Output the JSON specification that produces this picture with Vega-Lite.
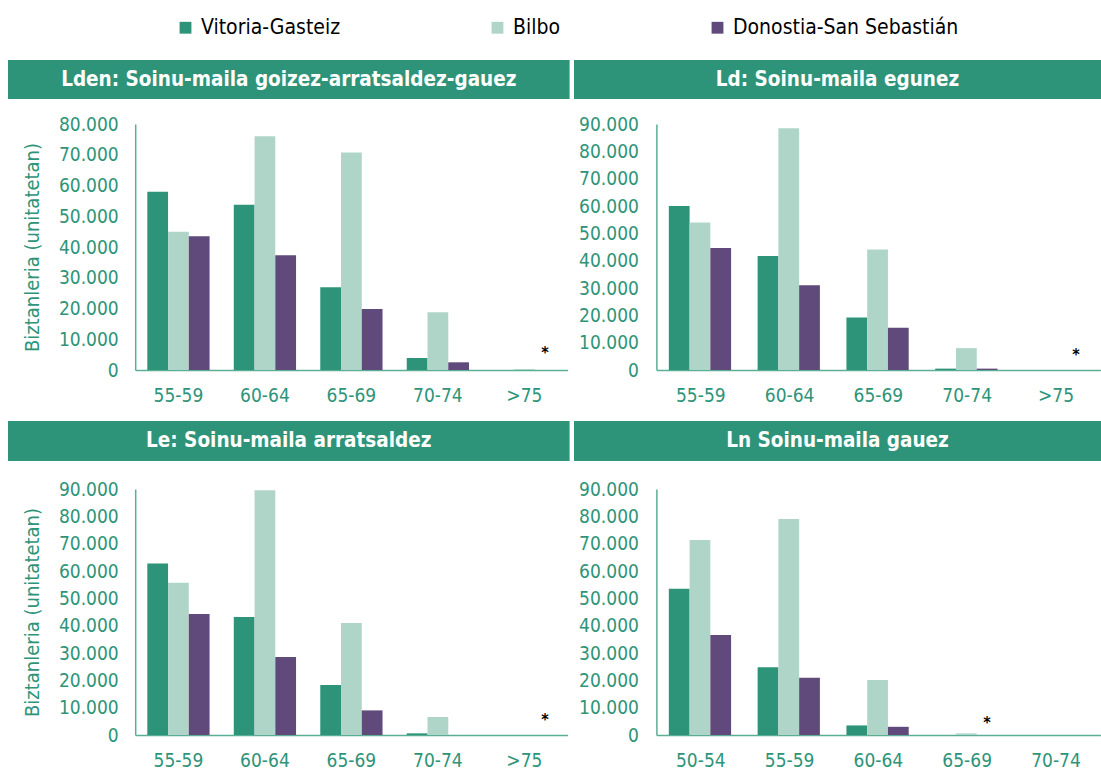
{
  "$schema": "https://vega.github.io/schema/vega-lite/v6.json",
  "padding": {"left": 8, "top": 17, "right": 0, "bottom": 0},
  "config": {
    "font": "DejaVu Sans Condensed",
    "view": {"stroke": null},
    "legend": {"padding": 0}
  },
  "datasets": {
    "bars": [
      {"panel": "Lden", "age": "55-59", "city": "Vitoria-Gasteiz", "value": 58000},
      {"panel": "Lden", "age": "55-59", "city": "Bilbo", "value": 45000},
      {"panel": "Lden", "age": "55-59", "city": "Donostia-San Sebastián", "value": 43500},
      {"panel": "Lden", "age": "60-64", "city": "Vitoria-Gasteiz", "value": 53700},
      {"panel": "Lden", "age": "60-64", "city": "Bilbo", "value": 76000},
      {"panel": "Lden", "age": "60-64", "city": "Donostia-San Sebastián", "value": 37300},
      {"panel": "Lden", "age": "65-69", "city": "Vitoria-Gasteiz", "value": 26900},
      {"panel": "Lden", "age": "65-69", "city": "Bilbo", "value": 70700},
      {"panel": "Lden", "age": "65-69", "city": "Donostia-San Sebastián", "value": 19800},
      {"panel": "Lden", "age": "70-74", "city": "Vitoria-Gasteiz", "value": 3900},
      {"panel": "Lden", "age": "70-74", "city": "Bilbo", "value": 18800},
      {"panel": "Lden", "age": "70-74", "city": "Donostia-San Sebastián", "value": 2500},
      {"panel": "Lden", "age": ">75", "city": "Vitoria-Gasteiz", "value": 0},
      {"panel": "Lden", "age": ">75", "city": "Bilbo", "value": 300},
      {"panel": "Lden", "age": ">75", "city": "Donostia-San Sebastián", "value": 0},
      {"panel": "Ld", "age": "55-59", "city": "Vitoria-Gasteiz", "value": 60000},
      {"panel": "Ld", "age": "55-59", "city": "Bilbo", "value": 54000},
      {"panel": "Ld", "age": "55-59", "city": "Donostia-San Sebastián", "value": 44600},
      {"panel": "Ld", "age": "60-64", "city": "Vitoria-Gasteiz", "value": 41700},
      {"panel": "Ld", "age": "60-64", "city": "Bilbo", "value": 88400},
      {"panel": "Ld", "age": "60-64", "city": "Donostia-San Sebastián", "value": 31000},
      {"panel": "Ld", "age": "65-69", "city": "Vitoria-Gasteiz", "value": 19200},
      {"panel": "Ld", "age": "65-69", "city": "Bilbo", "value": 44100},
      {"panel": "Ld", "age": "65-69", "city": "Donostia-San Sebastián", "value": 15500},
      {"panel": "Ld", "age": "70-74", "city": "Vitoria-Gasteiz", "value": 500},
      {"panel": "Ld", "age": "70-74", "city": "Bilbo", "value": 8000},
      {"panel": "Ld", "age": "70-74", "city": "Donostia-San Sebastián", "value": 500},
      {"panel": "Ld", "age": ">75", "city": "Vitoria-Gasteiz", "value": 0},
      {"panel": "Ld", "age": ">75", "city": "Bilbo", "value": 0},
      {"panel": "Ld", "age": ">75", "city": "Donostia-San Sebastián", "value": 0},
      {"panel": "Le", "age": "55-59", "city": "Vitoria-Gasteiz", "value": 62700},
      {"panel": "Le", "age": "55-59", "city": "Bilbo", "value": 55700},
      {"panel": "Le", "age": "55-59", "city": "Donostia-San Sebastián", "value": 44300},
      {"panel": "Le", "age": "60-64", "city": "Vitoria-Gasteiz", "value": 43200},
      {"panel": "Le", "age": "60-64", "city": "Bilbo", "value": 89500},
      {"panel": "Le", "age": "60-64", "city": "Donostia-San Sebastián", "value": 28500},
      {"panel": "Le", "age": "65-69", "city": "Vitoria-Gasteiz", "value": 18300},
      {"panel": "Le", "age": "65-69", "city": "Bilbo", "value": 41000},
      {"panel": "Le", "age": "65-69", "city": "Donostia-San Sebastián", "value": 9000},
      {"panel": "Le", "age": "70-74", "city": "Vitoria-Gasteiz", "value": 600},
      {"panel": "Le", "age": "70-74", "city": "Bilbo", "value": 6600},
      {"panel": "Le", "age": "70-74", "city": "Donostia-San Sebastián", "value": 0},
      {"panel": "Le", "age": ">75", "city": "Vitoria-Gasteiz", "value": 0},
      {"panel": "Le", "age": ">75", "city": "Bilbo", "value": 0},
      {"panel": "Le", "age": ">75", "city": "Donostia-San Sebastián", "value": 0},
      {"panel": "Ln", "age": "50-54", "city": "Vitoria-Gasteiz", "value": 53500},
      {"panel": "Ln", "age": "50-54", "city": "Bilbo", "value": 71300},
      {"panel": "Ln", "age": "50-54", "city": "Donostia-San Sebastián", "value": 36600},
      {"panel": "Ln", "age": "55-59", "city": "Vitoria-Gasteiz", "value": 24800},
      {"panel": "Ln", "age": "55-59", "city": "Bilbo", "value": 79000},
      {"panel": "Ln", "age": "55-59", "city": "Donostia-San Sebastián", "value": 20900},
      {"panel": "Ln", "age": "60-64", "city": "Vitoria-Gasteiz", "value": 3500},
      {"panel": "Ln", "age": "60-64", "city": "Bilbo", "value": 20100},
      {"panel": "Ln", "age": "60-64", "city": "Donostia-San Sebastián", "value": 3000},
      {"panel": "Ln", "age": "65-69", "city": "Vitoria-Gasteiz", "value": 0},
      {"panel": "Ln", "age": "65-69", "city": "Bilbo", "value": 600},
      {"panel": "Ln", "age": "65-69", "city": "Donostia-San Sebastián", "value": 0},
      {"panel": "Ln", "age": "70-74", "city": "Vitoria-Gasteiz", "value": 0},
      {"panel": "Ln", "age": "70-74", "city": "Bilbo", "value": 0},
      {"panel": "Ln", "age": "70-74", "city": "Donostia-San Sebastián", "value": 0}
    ],
    "stars": [
      {"panel": "Lden", "age": ">75", "city": "Donostia-San Sebastián", "value": 4000, "label": "*"},
      {"panel": "Ld", "age": ">75", "city": "Donostia-San Sebastián", "value": 3500, "label": "*"},
      {"panel": "Le", "age": ">75", "city": "Donostia-San Sebastián", "value": 3500, "label": "*"},
      {"panel": "Ln", "age": "65-69", "city": "Donostia-San Sebastián", "value": 2500, "label": "*"}
    ],
    "titles": [
      {"panel": "Lden", "title": "Lden: Soinu-maila goizez-arratsaldez-gauez"},
      {"panel": "Ld", "title": "Ld: Soinu-maila egunez"},
      {"panel": "Le", "title": "Le: Soinu-maila arratsaldez"},
      {"panel": "Ln", "title": "Ln Soinu-maila gauez"}
    ]
  },
  "spacing": 16,
  "vconcat": [
    {
      "spacing": 16,
      "vconcat": [
        {
          "spacing": 4,
          "hconcat": [
            {
              "width": 561.6, "height": 39,
              "view": {"fill": "#2e9479", "stroke": null},
              "data": {"name": "titles"},
              "transform": [{"filter": "datum.panel == 'Lden'"}],
              "mark": {"type": "text", "color": "white", "fontWeight": "bold", "fontSize": 20.5, "baseline": "middle", "align": "center"},
              "encoding": {"text": {"field": "title"}}
            },
            {
              "width": 527, "height": 39,
              "view": {"fill": "#2e9479", "stroke": null},
              "data": {"name": "titles"},
              "transform": [{"filter": "datum.panel == 'Ld'"}],
              "mark": {"type": "text", "color": "white", "fontWeight": "bold", "fontSize": 20.5, "baseline": "middle", "align": "center"},
              "encoding": {"text": {"field": "title"}}
            }
          ]
        },
        {
          "spacing": 10.4,
          "hconcat": [
            {
              "width": 559.6, "height": 246,
              "encoding": {
                "x": {"field": "age", "type": "nominal", "sort": ["55-59", "60-64", "65-69", "70-74", ">75"], "title": null,
                  "scale": {"range": [127.2, 559.6], "paddingInner": 0.28, "paddingOuter": 0.14},
                  "axis": {"labelAngle": 0, "ticks": false, "domainColor": "#5aae95", "domainWidth": 1.5, "labelColor": "#2e9479", "labelFontSize": 19, "labelPadding": 16}},
                "xOffset": {"field": "city", "sort": ["Vitoria-Gasteiz", "Bilbo", "Donostia-San Sebastián"]},
                "y": {"field": "value", "type": "quantitative", "scale": {"domain": [0, 80000], "nice": false},
                  "axis": {"title": "Biztanleria (unitatetan)", "offset": -127.2, "values": [0, 10000, 20000, 30000, 40000, 50000, 60000, 70000, 80000], "labelOverlap": false,
                    "labelExpr": "replace(format(datum.value, ','), ',', '.')", "grid": false, "ticks": false, "domainColor": "#5aae95", "domainWidth": 1.5,
                    "labelColor": "#2e9479", "labelFontSize": 19, "labelPadding": 17, "titleColor": "#2e9479", "titleFontSize": 20, "titleFontWeight": "normal", "titlePadding": 16}}
              },
              "layer": [
                {
                  "data": {"name": "bars"},
                  "transform": [{"filter": "datum.panel == 'Lden'"}],
                  "mark": {"type": "bar"},
                  "encoding": {
                    "color": {"field": "city", "type": "nominal",
                      "scale": {"domain": ["Vitoria-Gasteiz", "Bilbo", "Donostia-San Sebastián"], "range": ["#2e9479", "#afd5c8", "#604a7b"]},
                      "legend": {"orient": "none", "legendX": 167, "legendY": -43, "direction": "horizontal", "title": null, "symbolType": "square", "symbolSize": 140, "symbolStrokeWidth": 0, "labelFontSize": 21, "labelLimit": 400, "labelColor": "black", "columnPadding": 146, "labelOffset": 5}}
                  }
                },
                {
                  "data": {"name": "stars"},
                  "transform": [{"filter": "datum.panel == 'Lden'"}],
                  "mark": {"type": "text", "fontWeight": "bold", "fontSize": 16, "baseline": "alphabetic", "color": "black"},
                  "encoding": {"text": {"field": "label"}}
                }
              ]
            },
            {
              "width": 444, "height": 246,
              "encoding": {
                "x": {"field": "age", "type": "nominal", "sort": ["55-59", "60-64", "65-69", "70-74", ">75"], "title": null,
                  "scale": {"paddingInner": 0.28, "paddingOuter": 0.14},
                  "axis": {"labelAngle": 0, "ticks": false, "domainColor": "#5aae95", "domainWidth": 1.5, "labelColor": "#2e9479", "labelFontSize": 19, "labelPadding": 16}},
                "xOffset": {"field": "city", "sort": ["Vitoria-Gasteiz", "Bilbo", "Donostia-San Sebastián"]},
                "y": {"field": "value", "type": "quantitative", "scale": {"domain": [0, 90000], "nice": false},
                  "axis": {"title": null, "values": [0, 10000, 20000, 30000, 40000, 50000, 60000, 70000, 80000, 90000], "labelOverlap": false,
                    "labelExpr": "replace(format(datum.value, ','), ',', '.')", "grid": false, "ticks": false, "domainColor": "#5aae95", "domainWidth": 1.5,
                    "labelColor": "#2e9479", "labelFontSize": 19, "labelPadding": 18}}
              },
              "layer": [
                {
                  "data": {"name": "bars"},
                  "transform": [{"filter": "datum.panel == 'Ld'"}],
                  "mark": {"type": "bar"},
                  "encoding": {
                    "color": {"field": "city", "type": "nominal",
                      "scale": {"domain": ["Vitoria-Gasteiz", "Bilbo", "Donostia-San Sebastián"], "range": ["#2e9479", "#afd5c8", "#604a7b"]},
                      "legend": {"orient": "none", "legendX": 167, "legendY": -43, "direction": "horizontal", "title": null, "symbolType": "square", "symbolSize": 140, "symbolStrokeWidth": 0, "labelFontSize": 21, "labelLimit": 400, "labelColor": "black", "columnPadding": 146, "labelOffset": 5}}
                  }
                },
                {
                  "data": {"name": "stars"},
                  "transform": [{"filter": "datum.panel == 'Ld'"}],
                  "mark": {"type": "text", "fontWeight": "bold", "fontSize": 16, "baseline": "alphabetic", "color": "black"},
                  "encoding": {"text": {"field": "label"}}
                }
              ]
            }
          ]
        }
      ]
    },
    {
      "spacing": 19,
      "vconcat": [
        {
          "spacing": 4,
          "hconcat": [
            {
              "width": 561.6, "height": 40,
              "view": {"fill": "#2e9479", "stroke": null},
              "data": {"name": "titles"},
              "transform": [{"filter": "datum.panel == 'Le'"}],
              "mark": {"type": "text", "color": "white", "fontWeight": "bold", "fontSize": 20.5, "baseline": "middle", "align": "center"},
              "encoding": {"text": {"field": "title"}}
            },
            {
              "width": 527, "height": 40,
              "view": {"fill": "#2e9479", "stroke": null},
              "data": {"name": "titles"},
              "transform": [{"filter": "datum.panel == 'Ln'"}],
              "mark": {"type": "text", "color": "white", "fontWeight": "bold", "fontSize": 20.5, "baseline": "middle", "align": "center"},
              "encoding": {"text": {"field": "title"}}
            }
          ]
        },
        {
          "spacing": 10.4,
          "hconcat": [
            {
              "width": 559.6, "height": 246,
              "encoding": {
                "x": {"field": "age", "type": "nominal", "sort": ["55-59", "60-64", "65-69", "70-74", ">75"], "title": null,
                  "scale": {"range": [127.2, 559.6], "paddingInner": 0.28, "paddingOuter": 0.14},
                  "axis": {"labelAngle": 0, "ticks": false, "domainColor": "#5aae95", "domainWidth": 1.5, "labelColor": "#2e9479", "labelFontSize": 19, "labelPadding": 16}},
                "xOffset": {"field": "city", "sort": ["Vitoria-Gasteiz", "Bilbo", "Donostia-San Sebastián"]},
                "y": {"field": "value", "type": "quantitative", "scale": {"domain": [0, 90000], "nice": false},
                  "axis": {"title": "Biztanleria (unitatetan)", "offset": -127.2, "values": [0, 10000, 20000, 30000, 40000, 50000, 60000, 70000, 80000, 90000], "labelOverlap": false,
                    "labelExpr": "replace(format(datum.value, ','), ',', '.')", "grid": false, "ticks": false, "domainColor": "#5aae95", "domainWidth": 1.5,
                    "labelColor": "#2e9479", "labelFontSize": 19, "labelPadding": 17, "titleColor": "#2e9479", "titleFontSize": 20, "titleFontWeight": "normal", "titlePadding": 16}}
              },
              "layer": [
                {
                  "data": {"name": "bars"},
                  "transform": [{"filter": "datum.panel == 'Le'"}],
                  "mark": {"type": "bar"},
                  "encoding": {
                    "color": {"field": "city", "type": "nominal",
                      "scale": {"domain": ["Vitoria-Gasteiz", "Bilbo", "Donostia-San Sebastián"], "range": ["#2e9479", "#afd5c8", "#604a7b"]},
                      "legend": {"orient": "none", "legendX": 167, "legendY": -43, "direction": "horizontal", "title": null, "symbolType": "square", "symbolSize": 140, "symbolStrokeWidth": 0, "labelFontSize": 21, "labelLimit": 400, "labelColor": "black", "columnPadding": 146, "labelOffset": 5}}
                  }
                },
                {
                  "data": {"name": "stars"},
                  "transform": [{"filter": "datum.panel == 'Le'"}],
                  "mark": {"type": "text", "fontWeight": "bold", "fontSize": 16, "baseline": "alphabetic", "color": "black"},
                  "encoding": {"text": {"field": "label"}}
                }
              ]
            },
            {
              "width": 444, "height": 246,
              "encoding": {
                "x": {"field": "age", "type": "nominal", "sort": ["50-54", "55-59", "60-64", "65-69", "70-74"], "title": null,
                  "scale": {"paddingInner": 0.28, "paddingOuter": 0.14},
                  "axis": {"labelAngle": 0, "ticks": false, "domainColor": "#5aae95", "domainWidth": 1.5, "labelColor": "#2e9479", "labelFontSize": 19, "labelPadding": 16}},
                "xOffset": {"field": "city", "sort": ["Vitoria-Gasteiz", "Bilbo", "Donostia-San Sebastián"]},
                "y": {"field": "value", "type": "quantitative", "scale": {"domain": [0, 90000], "nice": false},
                  "axis": {"title": null, "values": [0, 10000, 20000, 30000, 40000, 50000, 60000, 70000, 80000, 90000], "labelOverlap": false,
                    "labelExpr": "replace(format(datum.value, ','), ',', '.')", "grid": false, "ticks": false, "domainColor": "#5aae95", "domainWidth": 1.5,
                    "labelColor": "#2e9479", "labelFontSize": 19, "labelPadding": 18}}
              },
              "layer": [
                {
                  "data": {"name": "bars"},
                  "transform": [{"filter": "datum.panel == 'Ln'"}],
                  "mark": {"type": "bar"},
                  "encoding": {
                    "color": {"field": "city", "type": "nominal",
                      "scale": {"domain": ["Vitoria-Gasteiz", "Bilbo", "Donostia-San Sebastián"], "range": ["#2e9479", "#afd5c8", "#604a7b"]},
                      "legend": {"orient": "none", "legendX": 167, "legendY": -43, "direction": "horizontal", "title": null, "symbolType": "square", "symbolSize": 140, "symbolStrokeWidth": 0, "labelFontSize": 21, "labelLimit": 400, "labelColor": "black", "columnPadding": 146, "labelOffset": 5}}
                  }
                },
                {
                  "data": {"name": "stars"},
                  "transform": [{"filter": "datum.panel == 'Ln'"}],
                  "mark": {"type": "text", "fontWeight": "bold", "fontSize": 16, "baseline": "alphabetic", "color": "black"},
                  "encoding": {"text": {"field": "label"}}
                }
              ]
            }
          ]
        }
      ]
    }
  ]
}
